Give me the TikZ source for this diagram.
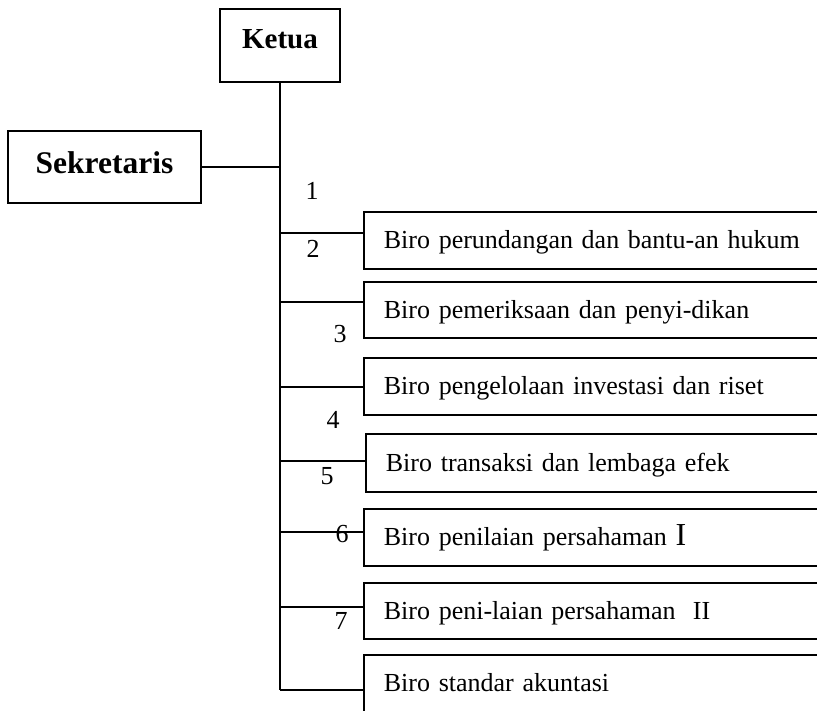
\documentclass[tikz,border=0pt]{standalone}
\usepackage{fontspec}
\setmainfont{Liberation Serif}
\begin{document}
\begin{tikzpicture}[x=1pt,y=-1pt,line width=1.8pt,
  topbox/.style={draw,rectangle,font=\bfseries},
  birobox/.style={draw,rectangle,anchor=north west,minimum height=57pt,
    text width=427pt,align=left,inner xsep=20pt,inner ysep=0pt,
    text height=17pt,text depth=0pt,font=\fontsize{26}{30}\selectfont},
  num/.style={anchor=base,inner sep=0pt,font=\fontsize{26}{30}\selectfont}]
\useasboundingbox (0,0) rectangle (817,710);
\clip (0,0) rectangle (817,710);
% top boxes
\node[topbox,minimum width=120pt,minimum height=73pt,text height=20pt,text depth=15pt,
  font=\bfseries\fontsize{29}{32}\selectfont] (ketua) at (280,45.5) {Ketua};
\node[topbox,minimum width=193pt,minimum height=72pt,text height=22pt,text depth=10pt,
  font=\bfseries\fontsize{31.5}{34}\selectfont] (sek) at (104.5,167) {Sekretaris\hspace{10pt}};
% biro boxes
\node[birobox] (b1) at (363,211) {Biro perundangan dan bantu-an hukum};
\node[birobox,minimum height=56pt] (b2) at (363,281) {Biro pemeriksaan dan penyi-dikan};
\node[birobox] (b3) at (363,357) {Biro pengelolaan investasi dan riset};
\node[birobox,minimum height=58pt] (b4) at (365,433) {Biro transaksi dan lembaga efek};
\node[birobox] (b5) at (363,508) {Biro penilaian persahaman {\fontsize{32}{32}\selectfont I}};
\node[birobox,minimum height=56pt] (b6) at (363,582) {Biro peni-laian persahaman\ \ II};
\node[birobox] (b7) at (363,654) {Biro standar akuntasi};
% connector levels
\coordinate (c1) at (0,233);
\coordinate (c2) at (0,302);
\coordinate (c3) at (0,387);
\coordinate (c4) at (0,461);
\coordinate (c5) at (0,532);
\coordinate (c6) at (0,607);
\coordinate (c7) at (0,690);
% trunk
\draw (ketua.south) -- (ketua.south |- c7);
\draw (sek.east) -- (ketua.south |- sek.east);
\draw (ketua.south |- c1) -- (b1.west |- c1);
\draw (ketua.south |- c2) -- (b2.west |- c2);
\draw (ketua.south |- c3) -- (b3.west |- c3);
\draw (ketua.south |- c4) -- (b4.west |- c4);
\draw (ketua.south |- c5) -- (b5.west |- c5);
\draw (ketua.south |- c6) -- (b6.west |- c6);
\draw (ketua.south |- c7) -- (b7.west |- c7);
% numbers
\node[num] (n1) at (312,199) {1};
\node[num] (n2) at (313,257) {2};
\node[num] (n3) at (340,342) {3};
\node[num] (n4) at (333,428) {4};
\node[num] (n5) at (327,484) {5};
\node[num] (n6) at (342,542) {6};
\node[num] (n7) at (341,629) {7};
\end{tikzpicture}
\end{document}
